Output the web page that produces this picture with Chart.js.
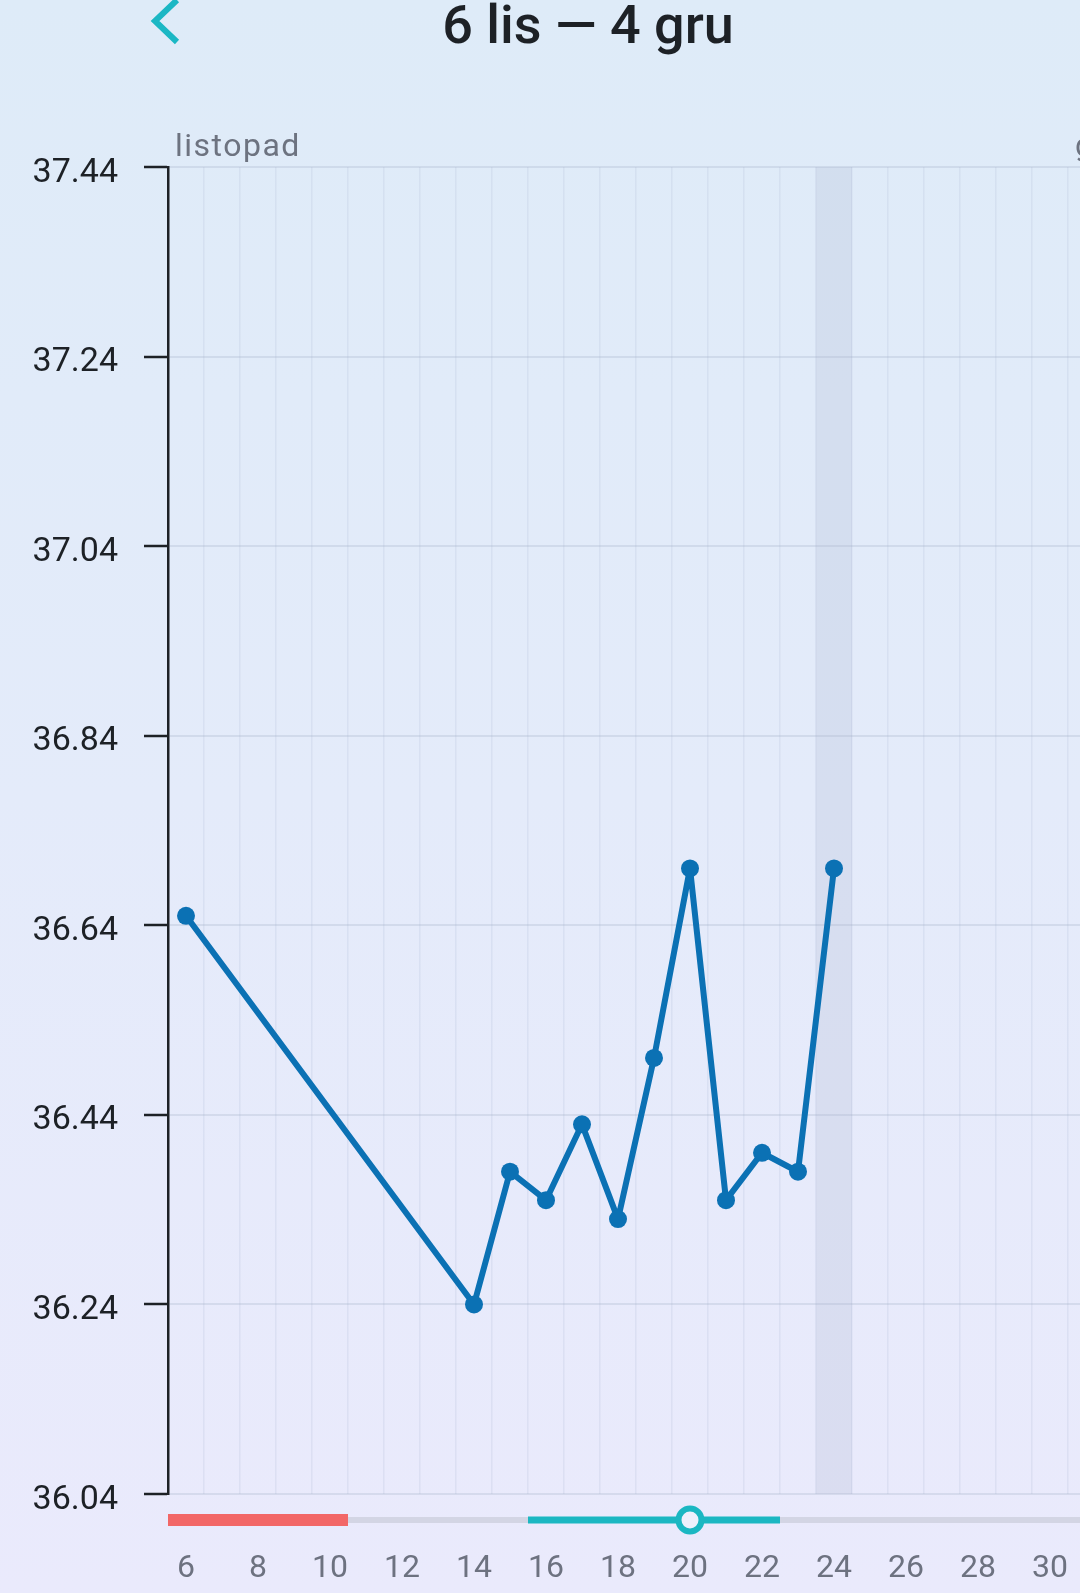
<!DOCTYPE html>
<html>
<head>
<meta charset="utf-8">
<script src="https://cdn.jsdelivr.net/npm/chart.js@4.4.1/dist/chart.umd.min.js"></script>
<style>
    html, body {
        margin: 0;
        padding: 0;
        width: 1080px;
        height: 1593px;
        overflow: hidden;
        background: linear-gradient(to bottom, #deebf8 0%, #e4ebfa 50%, #eaeafc 100%);
        font-family: Roboto, "Noto Sans", sans-serif;
    }
    #title {
        position: absolute;
        top: -10px;
        left: 0;
        width: 1176px;
        text-align: center;
        font-size: 54px;
        font-weight: 500;
        color: #1d2126;
        line-height: 70px;
    }
    #back {
        position: absolute;
        left: 146px;
        top: -4px;
    }
    #tempChart {
        position: absolute;
        left: 0;
        top: 0;
    }
</style>
</head>
<body>
<svg id="back" width="44" height="54" viewBox="0 0 44 54">
    <polyline points="31,4 9,25 31,46" fill="none" stroke="#1bb7c4" stroke-width="6" stroke-linecap="butt"/>
</svg>
<div id="title">6 lis — 4 gru</div>
<canvas id="tempChart" width="1221" height="1593"></canvas>
<script>
// days shown: 6 Nov .. 4 Dec
const dayLabels = ['6','7','8','9','10','11','12','13','14','15','16','17','18','19','20',
    '21','22','23','24','25','26','27','28','29','30','1','2','3','4'];
const temperatures = [36.65, null, null, null, null, null, null, null, 36.24, 36.38, 36.35, 36.43, 36.33, 36.50, 36.70,
    36.35, 36.40, 36.38, 36.70, null, null, null, null, null, null, null, null, null, null];
const yTicks = [36.04, 36.24, 36.44, 36.64, 36.84, 37.04, 37.24, 37.44];
const monthNames = ['listopad', 'grudzień'];
const monthStarts = [0, 25]; // index in dayLabels where each month starts
const periodDays = ['6', '10'];     // first / last day of period
const fertileDays = ['16', '22'];   // fertile window
const ovulationDay = '20';
const todayLabel = '24';

const lineColor = '#0b71b4';

function colWidth(x) {
    return (x.right - x.left) / dayLabels.length;
}

const cyclePlugin = {
    id: 'cycle',
    beforeDatasetsDraw(chart) {
        const ctx = chart.ctx;
        const x = chart.scales.x;
        const area = chart.chartArea;
        const w = colWidth(x);
        // today band
        const tx = x.getPixelForValue(dayLabels.indexOf(todayLabel));
        ctx.save();
        ctx.fillStyle = 'rgba(160, 172, 200, 0.2)';
        ctx.fillRect(tx - w / 2, area.top, w, area.bottom - area.top);
        ctx.restore();
    },
    afterDraw(chart) {
        const ctx = chart.ctx;
        const x = chart.scales.x;
        const area = chart.chartArea;
        const w = colWidth(x);
        const y = area.bottom + 26;
        const left = i => x.getPixelForValue(i) - w / 2;
        const right = i => x.getPixelForValue(i) + w / 2;

        ctx.save();
        // track
        ctx.fillStyle = '#d3d5e4';
        ctx.fillRect(area.left, y - 3, area.right - area.left, 6);
        // period
        ctx.fillStyle = '#f26767';
        ctx.fillRect(left(dayLabels.indexOf(periodDays[0])), y - 6,
            right(dayLabels.indexOf(periodDays[1])) - left(dayLabels.indexOf(periodDays[0])), 12);
        // fertile window
        ctx.fillStyle = '#1bb7c2';
        ctx.fillRect(left(dayLabels.indexOf(fertileDays[0])), y - 3.5,
            right(dayLabels.indexOf(fertileDays[1])) - left(dayLabels.indexOf(fertileDays[0])), 7);
        // ovulation
        const ox = x.getPixelForValue(dayLabels.indexOf(ovulationDay));
        ctx.beginPath();
        ctx.arc(ox, y, 11.5, 0, Math.PI * 2);
        ctx.fillStyle = '#eef0fc';
        ctx.fill();
        ctx.lineWidth = 6;
        ctx.strokeStyle = '#1bb7c2';
        ctx.stroke();

        // month names above the plot
        ctx.font = '32px Roboto';
        ctx.letterSpacing = '1.5px';
        ctx.fillStyle = '#6d7380';
        ctx.textBaseline = 'alphabetic';
        ctx.textAlign = 'left';
        monthNames.forEach((m, i) => {
            ctx.fillText(m, left(monthStarts[i]) + 7, area.top - 11);
        });
        ctx.restore();
    }
};

const ctx = document.getElementById('tempChart').getContext('2d');
const chart = new Chart(ctx, {
    type: 'line',
    data: {
        labels: dayLabels,
        datasets: [{
            data: temperatures,
            borderColor: lineColor,
            backgroundColor: lineColor,
            borderWidth: 6,
            borderJoinStyle: 'round',
            pointRadius: 9,
            pointBorderWidth: 0,
            spanGaps: true,
            tension: 0,
        }]
    },
    options: {
        responsive: false,
        devicePixelRatio: 1,
        animation: false,
        layout: {
            padding: { top: 167, left: 0, right: 0, bottom: 0 }
        },
        plugins: {
            legend: { display: false },
            tooltip: { enabled: false },
        },
        scales: {
            x: {
                offset: true,
                grid: {
                    offset: true,
                    color: 'rgba(175, 188, 212, 0.22)',
                    lineWidth: 1.5,
                    drawTicks: true,
                    tickLength: 56,
                    tickColor: 'rgba(0, 0, 0, 0)',
                },
                border: { display: false },
                ticks: {
                    autoSkip: false,
                    maxRotation: 0,
                    padding: 0,
                    color: '#6d7280',
                    font: { family: 'Roboto', size: 32 },
                    callback: function(value, index) {
                        return index % 2 === 0 ? dayLabels[index] : '';
                    },
                },
                afterFit: function(scale) {
                    scale.height = 99;
                },
            },
            y: {
                min: 36.04,
                max: 37.44,
                afterBuildTicks: function(scale) {
                    scale.ticks = yTicks.map(v => ({ value: v }));
                },
                grid: {
                    color: 'rgba(170, 182, 205, 0.32)',
                    lineWidth: 2,
                    tickColor: '#1d2126',
                    tickWidth: 2.5,
                    tickLength: 24,
                },
                border: { color: '#1d2126', width: 2.5 },
                ticks: {
                    padding: 26,
                    labelOffset: 6,
                    color: '#1d2126',
                    font: { family: 'Roboto', size: 34 },
                    callback: function(value) {
                        return Number(value).toFixed(2);
                    },
                },
                afterFit: function(scale) {
                    scale.width = 168;
                },
            },
        },
    },
    plugins: [cyclePlugin],
});
</script>
</body>
</html>
